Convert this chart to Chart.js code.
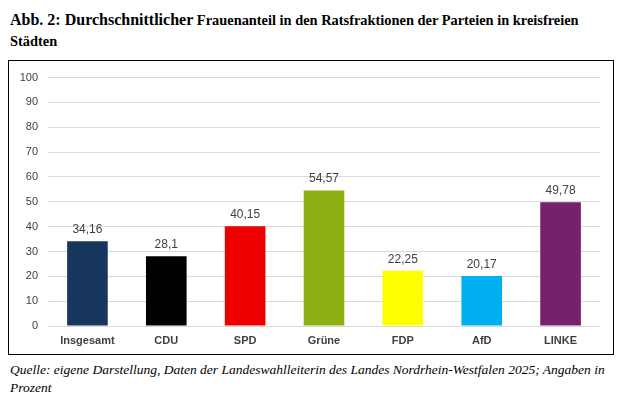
<!DOCTYPE html>
<html>
<head>
<meta charset="utf-8">
<script src="https://cdn.jsdelivr.net/npm/chart.js@4"></script>
<style>
  html, body { margin: 0; padding: 0; background: #fff; }
  body { width: 635px; height: 399px; position: relative; overflow: hidden; }
  #title { position: absolute; left: 10px; top: 9px; font-family: "Liberation Serif", "Times New Roman", serif; font-weight: bold; font-size: 14.4px; line-height: 21px; color: #000; white-space: nowrap; }
  #title .big { font-size: 16px; }
  #box { position: absolute; left: 8px; top: 60px; width: 604px; height: 293px; border: 1.5px solid #000; }
  #chart { position: absolute; left: 0px; top: 0px; }
  #note { position: absolute; left: 10px; top: 361px; font-family: "Liberation Serif", "Times New Roman", serif; font-style: italic; font-size: 13.5px; line-height: 18px; color: #000; width: 624px; white-space: nowrap; }
</style>
</head>
<body>
<div id="title"><span class="big">Abb. 2: Durchschnittlicher</span> Frauenanteil in den Ratsfraktionen der Parteien in kreisfreien<br>Städten</div>
<div id="box"><canvas id="chart" width="604" height="293"></canvas></div>
<div id="note">Quelle: eigene Darstellung, Daten der Landeswahlleiterin des Landes Nordrhein-Westfalen 2025; Angaben in<br>Prozent</div>
<script>
const categories = ["Insgesamt", "CDU", "SPD", "Grüne", "FDP", "AfD", "LINKE"];
const values = [34.16, 28.1, 40.15, 54.57, 22.25, 20.17, 49.78];
const barColors = ["#17365D", "#000000", "#EE0000", "#8DAF14", "#FFFF00", "#00B0F0", "#77206B"];
const yTicks = [0, 10, 20, 30, 40, 50, 60, 70, 80, 90, 100];

const valueLabels = {
  id: 'valueLabels',
  afterDatasetsDraw(chart) {
    const ctx = chart.ctx;
    const meta = chart.getDatasetMeta(0);
    ctx.save();
    ctx.font = '12px "Liberation Sans", Arial, sans-serif';
    ctx.fillStyle = '#404040';
    ctx.textAlign = 'center';
    ctx.textBaseline = 'alphabetic';
    meta.data.forEach((bar, i) => {
      const txt = String(values[i]).replace('.', ',');
      ctx.fillText(txt, bar.x, bar.y - 8);
    });
    ctx.restore();
  }
};

new Chart(document.getElementById('chart'), {
  type: 'bar',
  data: {
    labels: categories,
    datasets: [{
      data: values,
      backgroundColor: barColors,
      borderWidth: 0,
      categoryPercentage: 1.0,
      barPercentage: 0.515
    }]
  },
  options: {
    responsive: false,
    animation: false,
    devicePixelRatio: 1,
    layout: { padding: { left: 0, right: 13, top: 15, bottom: 0 } },
    plugins: { legend: { display: false }, tooltip: { enabled: false } },
    scales: {
      x: {
        grid: { display: false, drawTicks: false },
        border: { display: false },
        ticks: {
          padding: 8,
          color: '#404040',
          font: { family: '"Liberation Sans", Arial, sans-serif', size: 11, weight: 'bold' }
        },
        afterFit(scale) { scale.height = 28; }
      },
      y: {
        min: 0, max: 100,
        afterBuildTicks(scale) { scale.ticks = yTicks.map(v => ({ value: v })); },
        grid: { color: '#D9D9D9', lineWidth: 1, drawTicks: false },
        border: { display: false },
        ticks: {
          padding: 10,
          color: '#404040',
          font: { family: '"Liberation Sans", Arial, sans-serif', size: 11 }
        },
        afterFit(scale) { scale.width = 39; }
      }
    }
  },
  plugins: [valueLabels]
});
</script>
</body>
</html>
